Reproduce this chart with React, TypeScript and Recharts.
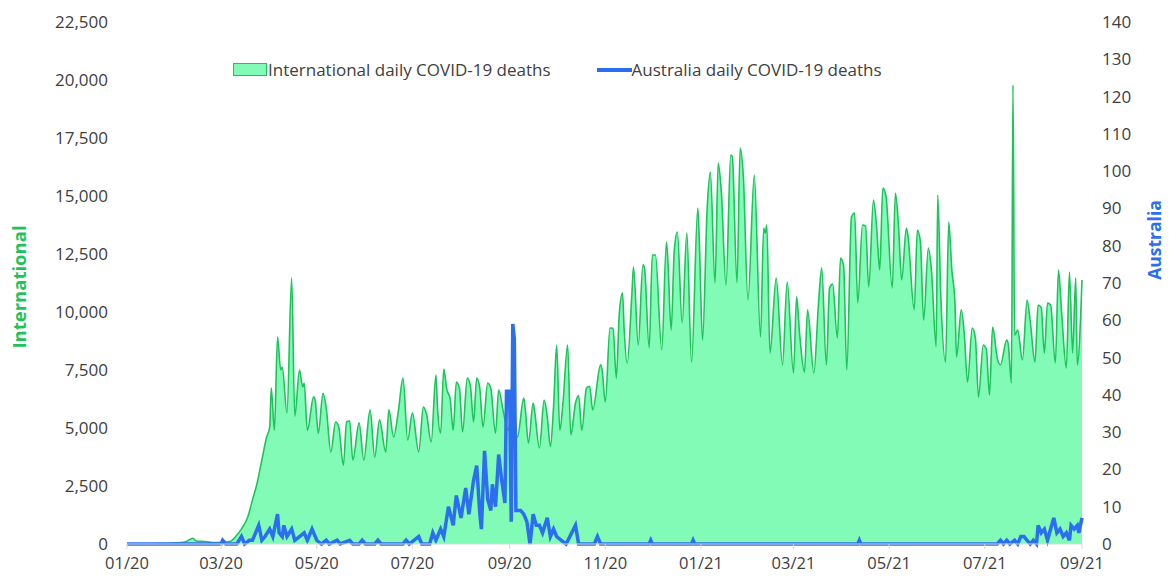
import React from 'react';
import { ComposedChart, Area, Line, XAxis, YAxis, Legend } from 'recharts';

// day = days since 2020-01-01
const intl2020Spring: [number, number][] = [
  [0, 0], [21, 20], [30, 45], [37, 90], [42, 250], [44, 130], [50, 110], [56, 60], [61, 70], [66, 120],
  [69, 300], [73, 650], [77, 1160], [80, 1900], [83, 2630], [86, 3620], [89, 4600], [91, 5040], [92, 6720],
  [94, 4900], [96, 8920], [98, 7500], [99, 7630], [102, 5650], [105, 11460], [107, 5500], [110, 7500],
  [112, 6770], [113, 6940], [115, 4900], [119, 6340], [120, 6200], [122, 4780], [125, 6500], [127, 5900],
  [130, 3970], [133, 5260], [135, 5050], [138, 3400], [140, 5260], [142, 5300], [144, 3620], [148, 5220],
  [151, 3620], [155, 5780], [158, 3750], [161, 5350], [165, 3970], [167, 5780], [170, 4610], [173, 5700],
  [176, 7150], [179, 4480], [182, 5650],
];

const intl2020Autumn: [number, number][] = [
  [186, 3970], [189, 5900], [191, 5600], [194, 4400], [197, 7280], [198, 5900], [200, 4780], [202, 7540],
  [204, 6640], [206, 6300], [208, 4900], [210, 6980], [212, 6700], [214, 4830], [217, 7150], [219, 6800],
  [221, 5260], [223, 7150], [225, 6700], [227, 5040], [230, 6940], [232, 6700], [235, 4780], [237, 6640],
  [240, 5700], [243, 4900], [246, 6200], [249, 4610], [253, 6290], [254, 5800], [256, 4350], [259, 6080],
  [260, 5700], [263, 4140], [266, 6200], [268, 5500], [270, 4200], [272, 5900], [274, 8580], [276, 4900],
  [278, 6080], [281, 8580], [283, 4700], [286, 6080], [288, 6400], [290, 4900], [293, 6720], [295, 6800],
  [297, 5780], [302, 7720], [303, 7500], [305, 6120], [308, 9310], [310, 9300], [312, 7150], [314, 10000],
  [316, 10820], [317, 9300], [319, 7800], [322, 10820], [323, 11940], [326, 8580], [329, 12030],
  [330, 11900], [333, 8450], [335, 12460], [337, 12460], [341, 8360], [344, 13020], [345, 12100],
  [347, 9220], [349, 12670], [351, 13450], [354, 9525], [357, 13400], [360, 7840], [364, 14480], [365, 13000],
];

const intl2021: [number, number][] = [
  [367, 8790], [370, 14520], [372, 16030], [375, 11250], [377, 16420], [379, 15200], [382, 11160],
  [385, 16770], [386, 16700], [389, 11250], [391, 17070], [393, 15900], [396, 10520], [400, 15900],
  [404, 8920], [406, 13620], [407, 13400], [408, 13750], [410, 8230], [414, 11460], [418, 7720],
  [421, 11290], [425, 7370], [427, 10650], [429, 9000], [432, 7410], [434, 10090], [438, 7370],
  [441, 10390], [443, 11900], [446, 7720], [448, 11030], [450, 11200], [453, 8880], [455, 12330],
  [457, 12000], [459, 7500], [462, 14090], [464, 14270], [466, 10390], [469, 13750], [471, 13700],
  [473, 11080], [476, 14830], [478, 13700], [480, 11810], [482, 15340], [484, 15000], [488, 11030],
  [490, 15130], [492, 13700], [494, 11380], [497, 13620], [498, 13300], [502, 10090], [504, 13530],
  [506, 13000], [508, 9650], [511, 12760], [513, 11810], [516, 8490], [517, 15040], [519, 10600],
  [522, 7840], [524, 13880], [526, 11810], [528, 10390], [529, 8060], [532, 10090], [534, 9000],
  [536, 6980], [539, 9310], [541, 8900], [543, 6340], [546, 8580], [548, 8400], [550, 6420], [552, 9350],
  [555, 8000], [557, 7720], [561, 8790], [562, 8600], [564, 6940], [565, 19780], [566, 9000], [568, 9220],
  [571, 7930], [574, 10520], [576, 9600], [579, 7840], [581, 10300], [583, 10200], [585, 8230],
  [587, 10390], [589, 10300], [592, 7800], [594, 11810], [596, 10000], [599, 7590], [601, 11720],
  [603, 8230], [605, 11460], [606, 7720], [609, 11380],
];

const aus2020: [number, number][] = [
  [0, 0], [60, 0], [61, 1], [63, 0], [70, 0], [73, 2], [75, 0], [78, 1], [80, 1], [82, 3], [84, 5], [86, 1],
  [88, 2], [91, 4], [93, 2], [95, 6], [96, 8], [97, 3], [99, 2], [100, 5], [102, 2], [105, 4], [107, 1],
  [110, 2], [113, 3], [115, 1], [118, 4], [121, 1], [124, 0], [127, 1], [129, 0], [134, 1], [136, 0],
  [142, 1], [144, 0], [148, 0], [150, 1], [152, 0], [158, 0], [160, 1], [162, 0], [176, 0], [178, 1],
  [180, 0], [186, 2], [188, 0], [193, 0], [195, 3], [197, 1], [200, 4], [202, 2], [205, 10], [208, 5],
  [210, 13], [213, 7], [216, 15], [218, 8], [221, 17], [223, 21], [225, 8], [226, 4], [228, 25], [230, 12],
  [232, 9], [233, 16], [235, 10], [237, 24], [239, 17], [241, 11], [242, 41], [244, 41], [245, 6],
  [246, 59], [247, 55], [248, 9], [251, 9], [253, 8], [255, 6], [257, 0], [259, 8], [261, 5], [263, 5],
  [265, 3], [268, 7], [270, 2], [272, 4], [274, 2], [277, 1], [280, 0], [286, 5], [288, 0], [298, 0],
  [300, 2], [302, 0],
];

const aus2021: [number, number][] = [
  [333, 0], [334, 1], [335, 0], [360, 0], [361, 1], [362, 0], [466, 0], [467, 1], [468, 0], [555, 0],
  [557, 1], [559, 0], [561, 1], [563, 0], [566, 1], [568, 0], [570, 2], [572, 2], [574, 1], [576, 0],
  [578, 1], [580, 0], [581, 5], [583, 3], [585, 4], [587, 1], [589, 4], [591, 7], [593, 3], [595, 4],
  [597, 2], [599, 3], [601, 1], [602, 5], [604, 4], [606, 5], [607, 3], [609, 7],
];

const xTickDays = [0, 60, 121, 182, 244, 305, 366, 425, 486, 547, 609];
const xTickLabels = ['01/20', '03/20', '05/20', '07/20', '09/20', '11/20', '01/21', '03/21', '05/21', '07/21', '09/21'];
const intlTicks = [0, 2500, 5000, 7500, 10000, 12500, 15000, 17500, 20000, 22500];
const ausTicks = [0, 10, 20, 30, 40, 50, 60, 70, 80, 90, 100, 110, 120, 130, 140];

const INTL_LINE = '#1fc35c';
const INTL_FILL = '#82fbb6';
const AUS_LINE = '#2b6ff0';
const TEXT = '#404040';
const FONT = '"Open Sans", "Noto Sans", sans-serif';

function buildData() {
  const byDay = new Map<number, { day: number; intl?: number; aus?: number }>();
  const put = (day: number, key: 'intl' | 'aus', v: number) => {
    const row = byDay.get(day) || { day };
    row[key] = v;
    byDay.set(day, row);
  };
  [...intl2020Spring, ...intl2020Autumn, ...intl2021].forEach(([d, v]) => put(d, 'intl', v));
  [...aus2020, ...aus2021].forEach(([d, v]) => put(d, 'aus', v));
  return [...byDay.values()].sort((a, b) => a.day - b.day);
}

const data = buildData();

const renderLegend = () => (
  <div style={{ display: 'flex', alignItems: 'center', fontFamily: FONT, fontSize: 17, color: TEXT, whiteSpace: 'nowrap' }}>
    <span style={{ display: 'inline-block', width: 34, height: 13, background: INTL_FILL, border: `1.5px solid ${INTL_LINE}`, boxSizing: 'border-box' }} />
    <span style={{ marginLeft: 1 }}>International daily COVID-19 deaths</span>
    <span style={{ display: 'inline-block', width: 35, height: 4, background: AUS_LINE, marginLeft: 46 }} />
    <span>Australia daily COVID-19 deaths</span>
  </div>
);

export default function App() {
  const yTick = { fontSize: 17, fill: TEXT, fontFamily: FONT };
  const xTick = { fontSize: 16.5, fill: TEXT, fontFamily: FONT };
  // negative margin cancels the body's default 8px margin so the chart fills the window
  return (
    <div style={{ position: 'relative', margin: -8, width: 1172, height: 579, fontFamily: FONT }}>
      <ComposedChart width={1172} height={579} data={data} margin={{ top: 22, right: 30, left: 67, bottom: 5 }}>
        <XAxis
          dataKey="day"
          type="number"
          domain={[0, 609]}
          ticks={xTickDays}
          tickFormatter={(d: number) => xTickLabels[xTickDays.indexOf(d)] ?? ''}
          height={30}
          stroke="#d9d9d9"
          tickSize={5}
          tickMargin={8}
          tick={xTick}
          interval={0}
        />
        <YAxis
          yAxisId="left"
          domain={[0, 22500]}
          ticks={intlTicks}
          width={60}
          axisLine={false}
          tickLine={false}
          tickSize={0}
          tickMargin={19}
          tick={yTick}
          tickFormatter={(v: number) => v.toLocaleString('en-US')}
        />
        <YAxis
          yAxisId="right"
          orientation="right"
          domain={[0, 140]}
          ticks={ausTicks}
          width={60}
          axisLine={false}
          tickLine={false}
          tickSize={0}
          tickMargin={20}
          tick={{ ...yTick, textAnchor: 'start' }}
        />
        <Legend
          layout="horizontal"
          verticalAlign="middle"
          align="center"
          content={renderLegend}
          wrapperStyle={{ top: 58, left: 233, width: 'auto' }}
        />
        <Area
          yAxisId="left"
          type="monotone"
          dataKey="intl"
          name="International daily COVID-19 deaths"
          stroke={INTL_LINE}
          strokeWidth={1.6}
          fill={INTL_FILL}
          fillOpacity={1}
          connectNulls
          isAnimationActive={false}
        />
        <Line
          yAxisId="right"
          type="linear"
          dataKey="aus"
          name="Australia daily COVID-19 deaths"
          stroke={AUS_LINE}
          strokeWidth={3.5}
          dot={false}
          connectNulls
          isAnimationActive={false}
        />
      </ComposedChart>
      <svg width={1172} height={579} style={{ position: 'absolute', left: 0, top: 0, pointerEvents: 'none' }}>
        <text
          transform="translate(18 287) rotate(-90)"
          textAnchor="middle"
          dominantBaseline="central"
          fill={INTL_LINE}
          fontFamily={FONT}
          fontWeight={700}
          fontSize={18.5}
        >
          International
        </text>
        <text
          transform="translate(1154 240) rotate(-90)"
          textAnchor="middle"
          dominantBaseline="central"
          fill={AUS_LINE}
          fontFamily={FONT}
          fontWeight={700}
          fontSize={17.5}
        >
          Australia
        </text>
      </svg>
    </div>
  );
}
